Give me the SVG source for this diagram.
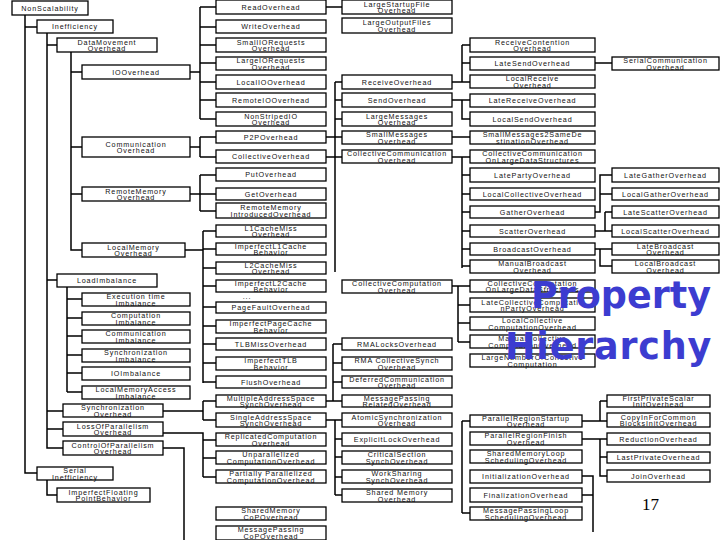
<svg xmlns="http://www.w3.org/2000/svg" width="720" height="540" viewBox="0 0 720 540">
<style>
#nodes rect{fill:#fff;stroke:#000;stroke-width:1.3}
#nodes text{font-family:"Liberation Sans",Arial,sans-serif;font-size:7.2px;letter-spacing:.85px;text-anchor:middle;fill:#111}
#connectors path{fill:none;stroke:#000;stroke-width:1.5}
</style>
<rect width="720" height="540" fill="#fff"/>
<g id="connectors"><path d="M25 15V473H37M25 27H37M47 33V448H63M47 45H57M47 280H57M47 411H63M47 429H63M71 52V250H82M71 72H82M71 147H82M71 194H82M190 72H200M200 7V119M200 7H216M200 27H216M200 45H216M200 63H216M200 82H216M200 100H216M200 119H216M326 7H342M190 147H200M200 137V157M200 137H216M200 157H216M326 137H335M335 82V272M335 82H342M335 100H342M335 119H342M335 137H342M326 157H342M452 82H462M462 45V82M462 45H470M462 63H470M462 82H470M452 100H470M462 100V119H470M595 63H612M452 137H470M452 157H470M462 157V268M462 175H470M462 194H470M462 212H470M462 231H470M462 249H470M462 266H470M595 212H600V175H612M600 194H612M595 231H612M605 212V231M605 212H612M595 249H612M600 249V266H612M452 286H470M458 286V342M458 305H470M458 323H470M458 342H470M190 194H200M200 175V211M200 175H216M200 194H216M200 211H216M185 250H203M203 231V383M203 231H216M203 249H216M203 268H216M203 286H216M203 307H216M203 326H216M203 344H216M203 363H216M203 382H216M67 287V392M67 299H82M67 318H82M67 336H82M67 355H82M67 373H82M67 392H82M163 411H203M203 401V420M203 401H216M203 420H216M326 401H333M333 344V401M333 344H342M333 363H342M333 382H342M333 401H342M326 420H342M335 420V495M335 439H342M335 457H342M335 477H342M335 495H342M163 433H203V477M203 440H216M203 458H216M203 477H216M163 448H184V540M47 480V495H57M462 421V513M462 421H470M462 513H470M582 421H607M600 401V421M600 401H607M582 439H607M600 439V476H607M600 457H607M582 476H593V532M582 495H593"/></g>
<g id="nodes">
<g id="nonscal"><rect x="12" y="1" width="76" height="14"/><text x="50" y="10.7">NonScalability</text></g>
<g id="ineff"><rect x="37" y="20" width="76" height="13"/><text x="75" y="29.2">Inefficiency</text></g>
<g id="datamove"><rect x="57" y="38" width="100" height="14"/><text x="107" y="44.5">DataMovement<tspan x="107" dy="6.5">Overhead</tspan></text></g>
<g id="io"><rect x="82" y="65" width="108" height="14"/><text x="136" y="74.7">IOOverhead</text></g>
<g id="comm"><rect x="82" y="137" width="108" height="20"/><text x="136" y="146.5">Communication<tspan x="136" dy="6.5">Overhead</tspan></text></g>
<g id="remotemem"><rect x="82" y="187" width="108" height="14"/><text x="136" y="193.5">RemoteMemory<tspan x="136" dy="6.5">Overhead</tspan></text></g>
<g id="localmem"><rect x="82" y="243" width="103" height="14"/><text x="133.5" y="249.5">LocalMemory<tspan x="133.5" dy="6.5">Overhead</tspan></text></g>
<g id="loadimb"><rect x="57" y="274" width="100" height="13"/><text x="107" y="283.2">LoadImbalance</text></g>
<g id="exectime"><rect x="82" y="293" width="108" height="13"/><text x="136" y="299">Execution time<tspan x="136" dy="6.5">Imbalance</tspan></text></g>
<g id="compimb"><rect x="82" y="312" width="108" height="13"/><text x="136" y="318">Computation<tspan x="136" dy="6.5">Imbalance</tspan></text></g>
<g id="commimb"><rect x="82" y="330" width="108" height="13"/><text x="136" y="336">Communication<tspan x="136" dy="6.5">Imbalance</tspan></text></g>
<g id="syncimb"><rect x="82" y="349" width="108" height="13"/><text x="136" y="355">Synchronization<tspan x="136" dy="6.5">Imbalance</tspan></text></g>
<g id="ioimb"><rect x="82" y="367" width="108" height="13"/><text x="136" y="376.2">IOImbalance</text></g>
<g id="lmaimb"><rect x="82" y="386" width="108" height="13"/><text x="136" y="392">LocalMemoryAccess<tspan x="136" dy="6.5">Imbalance</tspan></text></g>
<g id="syncov"><rect x="63" y="404" width="100" height="13"/><text x="113" y="410">Synchronization<tspan x="113" dy="6.5">Overhead</tspan></text></g>
<g id="lossov"><rect x="63" y="422" width="100" height="14"/><text x="113" y="428.5">LossOfParallelism<tspan x="113" dy="6.5">Overhead</tspan></text></g>
<g id="ctrlov"><rect x="63" y="441" width="100" height="14"/><text x="113" y="447.5">ControlOfParallelism<tspan x="113" dy="6.5">Overhead</tspan></text></g>
<g id="serial"><rect x="37" y="467" width="76" height="13"/><text x="75" y="473">Serial<tspan x="75" dy="6.5">Inefficiency</tspan></text></g>
<g id="floatpt"><rect x="57" y="488" width="93" height="14"/><text x="103.5" y="494.5">ImperfectFloating<tspan x="103.5" dy="6.5">PointBehavior</tspan></text></g>

<g id="read"><rect x="216" y="0" width="110" height="14"/><text x="271" y="9.7">ReadOverhead</text></g>
<g id="write"><rect x="216" y="20" width="110" height="13"/><text x="271" y="29.2">WriteOverhead</text></g>
<g id="smallio"><rect x="216" y="38" width="110" height="14"/><text x="271" y="44.5">SmallIORequests<tspan x="271" dy="6.5">Overhead</tspan></text></g>
<g id="largeio"><rect x="216" y="57" width="110" height="13"/><text x="271" y="63">LargeIORequests<tspan x="271" dy="6.5">Overhead</tspan></text></g>
<g id="localio"><rect x="216" y="75" width="110" height="14"/><text x="271" y="84.7">LocalIOOverhead</text></g>
<g id="remoteio"><rect x="216" y="93" width="110" height="14"/><text x="271" y="102.7">RemoteIOOverhead</text></g>
<g id="nonstriped"><rect x="216" y="112" width="110" height="14"/><text x="271" y="118.5">NonStripedIO<tspan x="271" dy="6.5">Overhead</tspan></text></g>
<g id="p2p"><rect x="216" y="131" width="110" height="12"/><text x="271" y="139.7">P2POverhead</text></g>
<g id="collective"><rect x="216" y="150" width="110" height="13"/><text x="271" y="159.2">CollectiveOverhead</text></g>
<g id="put"><rect x="216" y="168" width="110" height="13"/><text x="271" y="177.2">PutOverhead</text></g>
<g id="get"><rect x="216" y="188" width="110" height="12"/><text x="271" y="196.7">GetOverhead</text></g>
<g id="rmind"><rect x="216" y="203" width="110" height="15"/><text x="271" y="210">RemoteMemory<tspan x="271" dy="6.5">IntroducedOverhead</tspan></text></g>
<g id="l1miss"><rect x="216" y="225" width="110" height="12"/><text x="271" y="230.5">L1CacheMiss<tspan x="271" dy="6.5">Overhead</tspan></text></g>
<g id="impl1"><rect x="216" y="243" width="110" height="12"/><text x="271" y="248.5">ImperfectL1Cache<tspan x="271" dy="6.5">Behavior</tspan></text></g>
<g id="l2miss"><rect x="216" y="262" width="110" height="12"/><text x="271" y="267.5">L2CacheMiss<tspan x="271" dy="6.5">Overhead</tspan></text></g>
<g id="impl2"><rect x="216" y="280" width="110" height="12"/><text x="271" y="285.5">ImperfectL2Cache<tspan x="271" dy="6.5">Behavior</tspan></text></g>
<g id="dots"><text x="247" y="299">...</text></g>
<g id="pagefault"><rect x="216" y="302" width="110" height="11"/><text x="271" y="310.2">PageFaultOverhead</text></g>
<g id="imppage"><rect x="216" y="320" width="110" height="13"/><text x="271" y="326">ImperfectPageCache<tspan x="271" dy="6.5">Behavior</tspan></text></g>
<g id="tlbmiss"><rect x="216" y="338" width="110" height="12"/><text x="271" y="346.7">TLBMissOverhead</text></g>
<g id="imptlb"><rect x="216" y="357" width="110" height="13"/><text x="271" y="363">ImperfectTLB<tspan x="271" dy="6.5">Behavior</tspan></text></g>
<g id="flush"><rect x="216" y="376" width="110" height="12"/><text x="271" y="384.7">FlushOverhead</text></g>
<g id="multaddr"><rect x="216" y="395" width="110" height="12"/><text x="271" y="400.5">MultipleAddressSpace<tspan x="271" dy="6.5">SynchOverhead</tspan></text></g>
<g id="singaddr"><rect x="216" y="413" width="110" height="14"/><text x="271" y="419.5">SingleAddressSpace<tspan x="271" dy="6.5">SynchOverhead</tspan></text></g>
<g id="replic"><rect x="216" y="433" width="110" height="13"/><text x="271" y="439">ReplicatedComputation<tspan x="271" dy="6.5">Overhead</tspan></text></g>
<g id="unpar"><rect x="216" y="451" width="110" height="13"/><text x="271" y="457">Unparallelized<tspan x="271" dy="6.5">ComputationOverhead</tspan></text></g>
<g id="partpar"><rect x="216" y="470" width="110" height="13"/><text x="271" y="476">Partially Parallelized<tspan x="271" dy="6.5">ComputationOverhead</tspan></text></g>
<g id="shmcop"><rect x="216" y="507" width="110" height="13"/><text x="271" y="513">SharedMemory<tspan x="271" dy="6.5">CoPOverhead</tspan></text></g>
<g id="mpcop"><rect x="216" y="526" width="110" height="14"/><text x="271" y="532.3">MessagePassing<tspan x="271" dy="6.4">CoPOverhead</tspan></text></g>

<g id="largestartup"><rect x="342" y="0" width="110" height="14"/><text x="397" y="6.5">LargeStartupFile<tspan x="397" dy="6.5">Overhead</tspan></text></g>
<g id="largeoutput"><rect x="342" y="18" width="110" height="15"/><text x="397" y="25">LargeOutputFiles<tspan x="397" dy="6.5">Overhead</tspan></text></g>
<g id="receive"><rect x="342" y="75" width="110" height="14"/><text x="397" y="84.7">ReceiveOverhead</text></g>
<g id="send"><rect x="342" y="93" width="110" height="14"/><text x="397" y="102.7">SendOverhead</text></g>
<g id="largemsg"><rect x="342" y="112" width="110" height="14"/><text x="397" y="118.5">LargeMessages<tspan x="397" dy="6.5">Overhead</tspan></text></g>
<g id="smallmsg"><rect x="342" y="131" width="110" height="13"/><text x="397" y="137">SmallMessages<tspan x="397" dy="6.5">Overhead</tspan></text></g>
<g id="collcomm"><rect x="342" y="150" width="110" height="13"/><text x="397" y="156"><tspan textLength="100" lengthAdjust="spacingAndGlyphs">CollectiveCommunication</tspan><tspan x="397" dy="6.5">Overhead</tspan></text></g>
<g id="collcomp"><rect x="342" y="280" width="110" height="13"/><text x="397" y="286">CollectiveComputation<tspan x="397" dy="6.5">Overhead</tspan></text></g>
<g id="rmalocks"><rect x="342" y="338" width="110" height="12"/><text x="397" y="346.7">RMALocksOverhead</text></g>
<g id="rmacoll"><rect x="342" y="357" width="110" height="13"/><text x="397" y="363">RMA CollectiveSynch<tspan x="397" dy="6.5">Overhead</tspan></text></g>
<g id="deferred"><rect x="342" y="376" width="110" height="12"/><text x="397" y="381.5">DeferredCommunication<tspan x="397" dy="6.5">Overhead</tspan></text></g>
<g id="mprelated"><rect x="342" y="395" width="110" height="12"/><text x="397" y="400.5">MessagePassing<tspan x="397" dy="6.5">RelatedOverhead</tspan></text></g>
<g id="atomic"><rect x="342" y="413" width="110" height="14"/><text x="397" y="419.5">AtomicSynchronization<tspan x="397" dy="6.5">Overhead</tspan></text></g>
<g id="explicitlock"><rect x="342" y="433" width="110" height="13"/><text x="397" y="442.2">ExplicitLockOverhead</text></g>
<g id="critical"><rect x="342" y="451" width="110" height="13"/><text x="397" y="457">CriticalSection<tspan x="397" dy="6.5">SynchOverhead</tspan></text></g>
<g id="worksharing"><rect x="342" y="470" width="110" height="13"/><text x="397" y="476">WorkSharing<tspan x="397" dy="6.5">SynchOverhead</tspan></text></g>
<g id="shmov"><rect x="342" y="489" width="110" height="13"/><text x="397" y="495">Shared Memory<tspan x="397" dy="6.5">Overhead</tspan></text></g>

<g id="recvcont"><rect x="470" y="38" width="125" height="14"/><text x="532.5" y="44.5">ReceiveContention<tspan x="532.5" dy="6.5">Overhead</tspan></text></g>
<g id="latesend"><rect x="470" y="57" width="125" height="13"/><text x="532.5" y="66.2">LateSendOverhead</text></g>
<g id="localrecv"><rect x="470" y="75" width="125" height="13"/><text x="532.5" y="81">LocalReceive<tspan x="532.5" dy="6.5">Overhead</tspan></text></g>
<g id="laterecv"><rect x="470" y="94" width="125" height="13"/><text x="532.5" y="103.2">LateReceiveOverhead</text></g>
<g id="localsend"><rect x="470" y="112" width="125" height="14"/><text x="532.5" y="121.7">LocalSendOverhead</text></g>
<g id="smallmsg2"><rect x="470" y="131" width="125" height="13"/><text x="532.5" y="137">SmallMessages2SameDe<tspan x="532.5" dy="6.5">stinationOverhead</tspan></text></g>
<g id="colllarge"><rect x="470" y="150" width="125" height="13"/><text x="532.5" y="156">CollectiveCommunication<tspan x="532.5" dy="6.5">OnLargeDataStructures</tspan></text></g>
<g id="lateparty"><rect x="470" y="168" width="125" height="14"/><text x="532.5" y="177.7">LatePartyOverhead</text></g>
<g id="localcoll"><rect x="470" y="188" width="125" height="12"/><text x="532.5" y="196.7">LocalCollectiveOverhead</text></g>
<g id="gather"><rect x="470" y="206" width="125" height="12"/><text x="532.5" y="214.7">GatherOverhead</text></g>
<g id="scatter"><rect x="470" y="225" width="125" height="12"/><text x="532.5" y="233.7">ScatterOverhead</text></g>
<g id="broadcast"><rect x="470" y="243" width="125" height="12"/><text x="532.5" y="251.7">BroadcastOverhead</text></g>
<g id="manualbc"><rect x="470" y="260" width="125" height="13"/><text x="532.5" y="266">ManualBroadcast<tspan x="532.5" dy="6.5">Overhead</tspan></text></g>
<g id="collcomplarge"><rect x="470" y="280" width="125" height="12"/><text x="532.5" y="285.5">CollectiveComputation<tspan x="532.5" dy="6.5">OnLargeDataStructures</tspan></text></g>
<g id="latecollcomp"><rect x="470" y="298" width="125" height="14"/><text x="532.5" y="304.5">LateCollectiveComputatio<tspan x="532.5" dy="6.5">nPartyOverhead</tspan></text></g>
<g id="localcollcomp"><rect x="470" y="317" width="125" height="13"/><text x="532.5" y="323">LocalCollective<tspan x="532.5" dy="6.5">ComputationOverhead</tspan></text></g>
<g id="manualcollcomp"><rect x="470" y="335" width="125" height="13"/><text x="532.5" y="341">ManualCollective<tspan x="532.5" dy="6.5">ComputationOverhead</tspan></text></g>
<g id="largenumcoll"><rect x="470" y="354" width="125" height="13"/><text x="532.5" y="360">LargeNumberOfCollective<tspan x="532.5" dy="6.5">Computation</tspan></text></g>

<g id="serialcomm"><rect x="612" y="57" width="107" height="13"/><text x="665.5" y="63">SerialCommunication<tspan x="665.5" dy="6.5">Overhead</tspan></text></g>
<g id="lategather"><rect x="612" y="168" width="107" height="14"/><text x="665.5" y="177.7">LateGatherOverhead</text></g>
<g id="localgather"><rect x="612" y="188" width="107" height="12"/><text x="665.5" y="196.7">LocalGatherOverhead</text></g>
<g id="latescatter"><rect x="612" y="206" width="107" height="12"/><text x="665.5" y="214.7">LateScatterOverhead</text></g>
<g id="localscatter"><rect x="612" y="225" width="107" height="12"/><text x="665.5" y="233.7">LocalScatterOverhead</text></g>
<g id="latebc"><rect x="612" y="243" width="107" height="12"/><text x="665.5" y="248.5">LateBroadcast<tspan x="665.5" dy="6.5">Overhead</tspan></text></g>
<g id="localbc"><rect x="612" y="260" width="107" height="13"/><text x="665.5" y="266">LocalBroadcast<tspan x="665.5" dy="6.5">Overhead</tspan></text></g>

<g id="prstartup"><rect x="470" y="415" width="112" height="12"/><text x="526" y="420.5">ParallelRegionStartup<tspan x="526" dy="6.5">Overhead</tspan></text></g>
<g id="prfinish"><rect x="470" y="432" width="112" height="13"/><text x="526" y="438">ParallelRegionFinish<tspan x="526" dy="6.5">Overhead</tspan></text></g>
<g id="shmloop"><rect x="470" y="450" width="112" height="13"/><text x="526" y="456">SharedMemoryLoop<tspan x="526" dy="6.5">SchedulingOverhead</tspan></text></g>
<g id="init"><rect x="470" y="470" width="112" height="13"/><text x="526" y="479.2">InitializationOverhead</text></g>
<g id="final"><rect x="470" y="488" width="112" height="14"/><text x="526" y="497.7">FinalizationOverhead</text></g>
<g id="mploop"><rect x="470" y="507" width="112" height="13"/><text x="526" y="513">MessagePassingLoop<tspan x="526" dy="6.5">SchedulingOverhead</tspan></text></g>

<g id="firstpriv"><rect x="607" y="395" width="103" height="12"/><text x="658.5" y="400.5">FirstPrivateScalar<tspan x="658.5" dy="6.5">InitOverhead</tspan></text></g>
<g id="copyin"><rect x="607" y="413" width="103" height="14"/><text x="658.5" y="419.5">CopyInForCommon<tspan x="658.5" dy="6.5">BlocksInitOverhead</tspan></text></g>
<g id="reduction"><rect x="607" y="433" width="103" height="12"/><text x="658.5" y="441.7">ReductionOverhead</text></g>
<g id="lastpriv"><rect x="607" y="452" width="103" height="11"/><text x="658.5" y="460.2">LastPrivateOverhead</text></g>
<g id="join"><rect x="607" y="470" width="103" height="12"/><text x="658.5" y="478.7">JoinOverhead</text></g>
</g>
<g id="title" font-family="'DejaVu Sans','Liberation Sans',sans-serif" font-weight="bold" font-size="36.5" fill="#3c3cd0">
<text x="531" y="308">Property</text>
<text x="505" y="359" letter-spacing="0.8">Hierarchy</text>
</g>
<text id="pagenum" x="642" y="510" font-family="'Liberation Serif',serif" font-size="17" fill="#000">17</text>
</svg>
